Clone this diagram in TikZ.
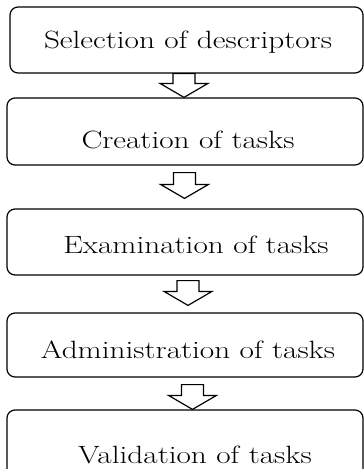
\documentclass[tikz,border=0pt]{standalone}
\usepackage{fontspec}
\usepackage{graphicx}
\usetikzlibrary{calc}
\tikzset{
stage/.style={draw, line width=1.2pt, rounded corners=8pt,
    minimum width=356pt, minimum height=66pt, inner sep=0pt},
stagetext/.style={inner sep=0pt, font=\fontsize{25}{30}\selectfont},
hollow/.style={draw, line width=1.2pt, fill=white, line join=miter}
}
% the label type is wider than Latin Modern
\newcommand{\wide}[1]{\scalebox{1.25}[1]{#1}}
% block arrow from the box #1 down to the box #2, at x=#3, gaps #4 and #5
\newcommand{\hollowarrow}[5]{%
  \path let \p1=(#1.south), \p2=(#2.north) in
    coordinate (top) at (#3pt,\y1-#4pt)
    coordinate (tip) at (#3pt,\y2+#5pt);
  \draw[hollow] ($(top)+(-11,0)$) -- ($(top)+(11,0)$) -- ($(tip)+(11,-14)$)
    -- ($(tip)+(24,-14)$) -- (tip) -- ($(tip)+(-24,-14)$)
    -- ($(tip)+(-11,-14)$) -- cycle;
}
\begin{document}
\begin{tikzpicture}[x=1pt, y=-1pt]
	\useasboundingbox (0,0) rectangle (364,469);
	\clip (0,0) rectangle (364,469);
	\node[stage, minimum width=353pt] (s1) at (186.5,40) {};
	\node[stage, minimum height=67pt] (s2) at (185,131.5) {};
	\node[stage] (s3) at (185,242) {};
	\node[stage, minimum height=64pt] (s4) at (185,345) {};
	\node[stage, minimum height=70pt] (s5) at (185,445) {};

	\node[stagetext] (t1) at (188,42) {\wide{Selection of descriptors}};
	\node[stagetext] (t2) at (188,140) {\wide{Creation of tasks}};
	\node[stagetext] (t3) at (196,245) {\wide{Examination of tasks}};
	\node[stagetext] (t4) at (188,350) {\wide{Administration of tasks}};
	\node[stagetext] (t5) at (195,455) {\wide{Validation of tasks}};

	\hollowarrow{s1}{s2}{184}{0}{0}
	\hollowarrow{s2}{s3}{184.5}{7}{10}
	\hollowarrow{s3}{s4}{188}{5}{7}
	\hollowarrow{s4}{s5}{192.5}{7}{0}
\end{tikzpicture}
\end{document}
